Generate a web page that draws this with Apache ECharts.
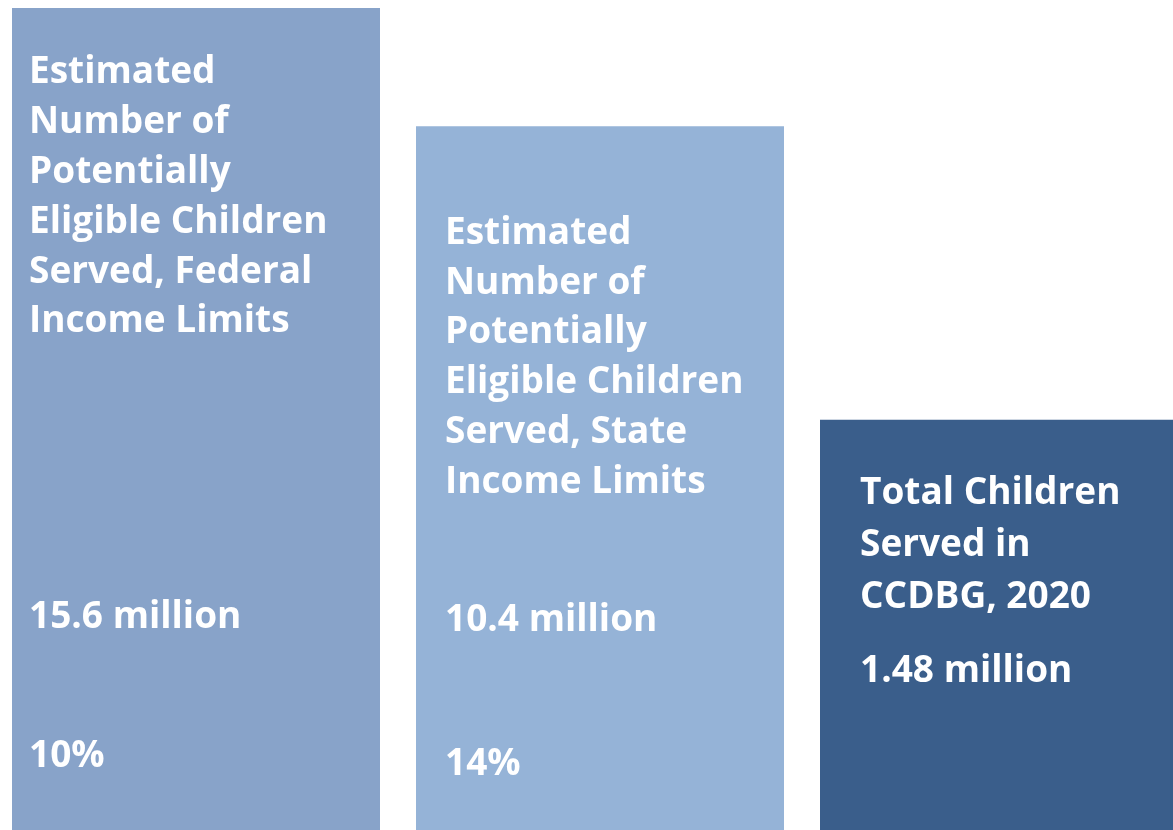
<!DOCTYPE html>
<html>
<head>
<meta charset="utf-8">
<script src="https://cdn.jsdelivr.net/npm/echarts@6/dist/echarts.min.js"></script>
<style>
  html, body { margin: 0; padding: 0; background: #ffffff; }
  #chart { width: 1173px; height: 830px; }
</style>
</head>
<body>
<div id="chart"></div>
<script>
// Three panels: federal-limit estimate, state-limit estimate, children served in CCDBG
const categories = ['Federal Income Limits', 'State Income Limits', 'CCDBG 2020'];
// Panel heights on a 0-100 display scale (the panels are stepped, not drawn to count scale)
const panelHeights = [100, 85.6, 49.9];
const panelTitles = [
  'Estimated\nNumber of\nPotentially\nEligible Children\nServed, Federal\nIncome Limits',
  'Estimated\nNumber of\nPotentially\nEligible Children\nServed, State\nIncome Limits',
  'Total Children\nServed in\nCCDBG, 2020'
];
const childCounts = ['15.6 million', '10.4 million', '1.48 million'];
const shareServed = ['10%', '14%', ''];

const panelColors = ['#88A3C9', '#95B3D7', '#3A5E8B'];

// Offsets of each text block from the top-left corner of its panel
const titleOffsets = [[17, 40], [29, 82], [40, 48]];
const titleLineHeights = [49.8, 49.8, 52];
const countOffsets = [[17, 584], [29, 469], [40, 227]];
const shareOffsets = [[17, 723], [29, 613], [40, 0]];

const textStyle = {
  color: '#ffffff',
  fontFamily: 'Open Sans',
  fontWeight: 'bold',
  fontSize: 37,
  lineHeight: 50
};

function labelled(texts, offsets) {
  return panelHeights.map((h, i) => ({
    value: h,
    label: Object.assign({
      show: texts[i] !== '',
      position: offsets[i],
      formatter: texts[i]
    }, textStyle)
  }));
}

const chart = echarts.init(document.getElementById('chart'), null, { renderer: 'canvas' });
chart.setOption({
  animation: false,
  grid: {
    left: -6, right: -33, top: 8, bottom: 0,
    containLabel: false,
    outerBoundsMode: 'none'
  },
  xAxis: {
    type: 'category',
    data: categories,
    show: false
  },
  yAxis: {
    type: 'value',
    min: 0,
    max: 100,
    show: false
  },
  series: [
    {
      type: 'bar',
      barWidth: 368,
      silent: true,
      data: panelHeights.map((h, i) => ({
        value: h,
        itemStyle: { color: panelColors[i] },
        label: Object.assign({}, textStyle, {
          show: true,
          position: titleOffsets[i],
          formatter: panelTitles[i],
          lineHeight: titleLineHeights[i]
        })
      }))
    },
    {
      type: 'bar',
      barWidth: 368,
      barGap: '-100%',
      silent: true,
      itemStyle: { color: 'rgba(0,0,0,0)' },
      data: labelled(childCounts, countOffsets)
    },
    {
      type: 'bar',
      barWidth: 368,
      barGap: '-100%',
      silent: true,
      itemStyle: { color: 'rgba(0,0,0,0)' },
      data: labelled(shareServed, shareOffsets)
    }
  ]
});
</script>
</body>
</html>
